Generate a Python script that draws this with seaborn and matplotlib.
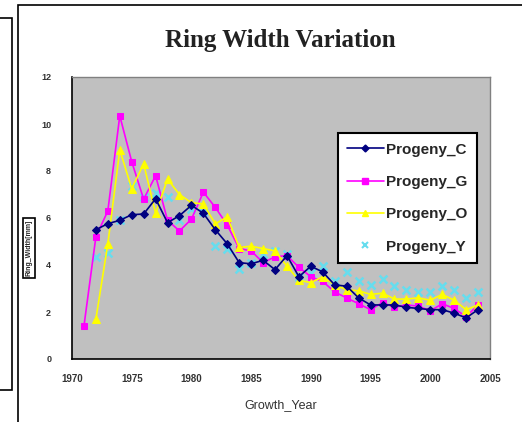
import numpy as np
import pandas as pd
import matplotlib
matplotlib.use("Agg")
import matplotlib.pyplot as plt
from matplotlib.patches import Rectangle
from matplotlib.lines import Line2D
import seaborn as sns

# data
years_c = list(range(1972, 2005))
progeny_c = [5.5, 5.76, 5.9, 6.14, 6.17, 6.82, 5.8, 6.1, 6.54, 6.2, 5.5, 4.9, 4.1, 4.05, 4.2,
             3.8, 4.4, 3.5, 3.95, 3.7, 3.15, 3.1, 2.6, 2.3, 2.3, 2.3, 2.2, 2.15, 2.1, 2.1,
             1.95, 1.75, 2.1]

years_g = list(range(1971, 2005))
progeny_g = [1.4, 5.2, 6.3, 10.35, 8.4, 6.8, 7.8, 5.9, 5.45, 5.95, 7.1, 6.45, 5.7, 4.7, 4.6,
             4.1, 4.35, 4.4, 3.9, 3.5, 3.3, 2.85, 2.6, 2.35, 2.1, 2.4, 2.2, 2.3, 2.25, 2.05,
             2.35, 2.15, 1.8, 2.3]

years_o = list(range(1972, 2005))
progeny_o = [1.7, 4.9, 8.9, 7.25, 8.3, 6.2, 7.65, 7.0, 6.65, 6.6, 5.75, 6.05, 4.75, 4.8, 4.7,
             4.6, 3.95, 3.35, 3.25, 3.5, 3.15, 2.95, 2.9, 2.75, 2.8, 2.55, 2.55, 2.6, 2.5,
             2.75, 2.5, 2.1, 2.3]

years_y = list(range(1972, 2005))
progeny_y = [4.35, 4.5, 5.9, 7.35, 6.9, 7.05, 6.9, 5.9, 6.4, 6.25, 4.8, 4.7, 3.85, 4.1, 4.45,
             4.6, 4.45, 3.5, 3.65, 3.95, 3.3, 3.7, 3.3, 3.15, 3.4, 3.1, 2.95, 2.85, 2.85,
             3.1, 2.95, 2.6, 2.85]

x_ticks = [1970, 1975, 1980, 1985, 1990, 1995, 2000, 2005]
y_ticks = [0, 2, 4, 6, 8, 10, 12]

df_c = pd.DataFrame({"Year": years_c, "Width": progeny_c})
df_g = pd.DataFrame({"Year": years_g, "Width": progeny_g})
df_o = pd.DataFrame({"Year": years_o, "Width": progeny_o})
df_y = pd.DataFrame({"Year": years_y, "Width": progeny_y})

sns.set_style("white")
plt.rcParams['font.family'] = ['Liberation Sans', 'DejaVu Sans']

fig = plt.figure(figsize=(5.22, 4.22), dpi=100)
ax = fig.add_axes([72/522, 1-359/422, (490-72)/522, (359-77)/422])
ax.set_facecolor('#C0C0C0')

col_c, col_g, col_o, col_y = '#000080', '#FF00FF', '#FFFF00', '#66DDEE'

sns.lineplot(data=df_g, x="Year", y="Width", ax=ax, color=col_g, marker='s', markersize=5,
             markeredgecolor=col_g, linewidth=1.2)
sns.lineplot(data=df_o, x="Year", y="Width", ax=ax, color=col_o, marker='^', markersize=6,
             markeredgecolor=col_o, linewidth=1.2)
sns.scatterplot(data=df_y, x="Year", y="Width", ax=ax, color=col_y, marker='x', s=32,
                linewidth=1.8)
sns.lineplot(data=df_c, x="Year", y="Width", ax=ax, color=col_c, marker='D', markersize=4,
             markeredgecolor=col_c, linewidth=1.2)

ax.set_xlim(1970, 2005)
ax.set_ylim(0, 12)
ax.set_xticks(x_ticks)
ax.set_yticks(y_ticks)
ax.set_xticklabels([str(t) for t in x_ticks], fontsize=7, fontweight='bold', color='#333333')
ax.set_yticklabels([str(t) for t in y_ticks], fontsize=6.5, fontweight='bold', color='#333333')
ax.tick_params(axis='x', direction='in', length=3, width=0.8, pad=11, colors='#333333')
ax.tick_params(axis='y', direction='in', length=3, width=0.8, pad=15, colors='#333333')
ax.set_xlabel("Growth_Year", fontsize=9, color='#333333', labelpad=11)
ax.set_ylabel("")

for side in ['left', 'bottom']:
    ax.spines[side].set_color('black')
    ax.spines[side].set_linewidth(1.2)
for side in ['top', 'right']:
    ax.spines[side].set_color('#808080')
    ax.spines[side].set_linewidth(1.0)

handles = [
    Line2D([], [], color=col_c, marker='D', markersize=3.5, linewidth=1.2),
    Line2D([], [], color=col_g, marker='s', markersize=4, linewidth=1.2),
    Line2D([], [], color=col_o, marker='^', markersize=5, linewidth=1.2),
    Line2D([], [], color=col_y, marker='x', markersize=5, markeredgewidth=1.5, linestyle='none'),
]
labels = ["Progeny_C", "Progeny_G", "Progeny_O", "Progeny_Y"]
leg = ax.legend(handles, labels, loc='upper left', bbox_to_anchor=(0.636, 0.80),
                frameon=True, fancybox=False, framealpha=1, edgecolor='black',
                prop={'size': 11, 'weight': 'bold'}, labelspacing=1.2, handlelength=2.4,
                handletextpad=0.15, borderpad=0.6, borderaxespad=0)
leg.get_frame().set_linewidth(1.5)

fig.text(280/522, 1-40/422, "Ring Width Variation", ha='center', va='center',
         fontsize=18, fontweight='bold', family='Liberation Serif', color='#222222')

# boxed y label
fig.text(29/522, 1-248/422, "Ring_Width[mm]", rotation=90, ha='center', va='center',
         fontsize=5, fontweight='bold',
         bbox=dict(facecolor='white', edgecolor='black', linewidth=1.2, boxstyle='square,pad=0.3'))

# outer chart frames
fig.patches.append(Rectangle((18/522, -0.02), 1.0, 1.02 - 5/422, transform=fig.transFigure,
                             fill=False, edgecolor='black', linewidth=1.2))
fig.patches.append(Rectangle((-0.02, 1-390/422), 0.02 + 12/522, (390-18)/422,
                             transform=fig.transFigure, fill=False, edgecolor='black',
                             linewidth=1.2))

plt.savefig('out.png', dpi=100)
